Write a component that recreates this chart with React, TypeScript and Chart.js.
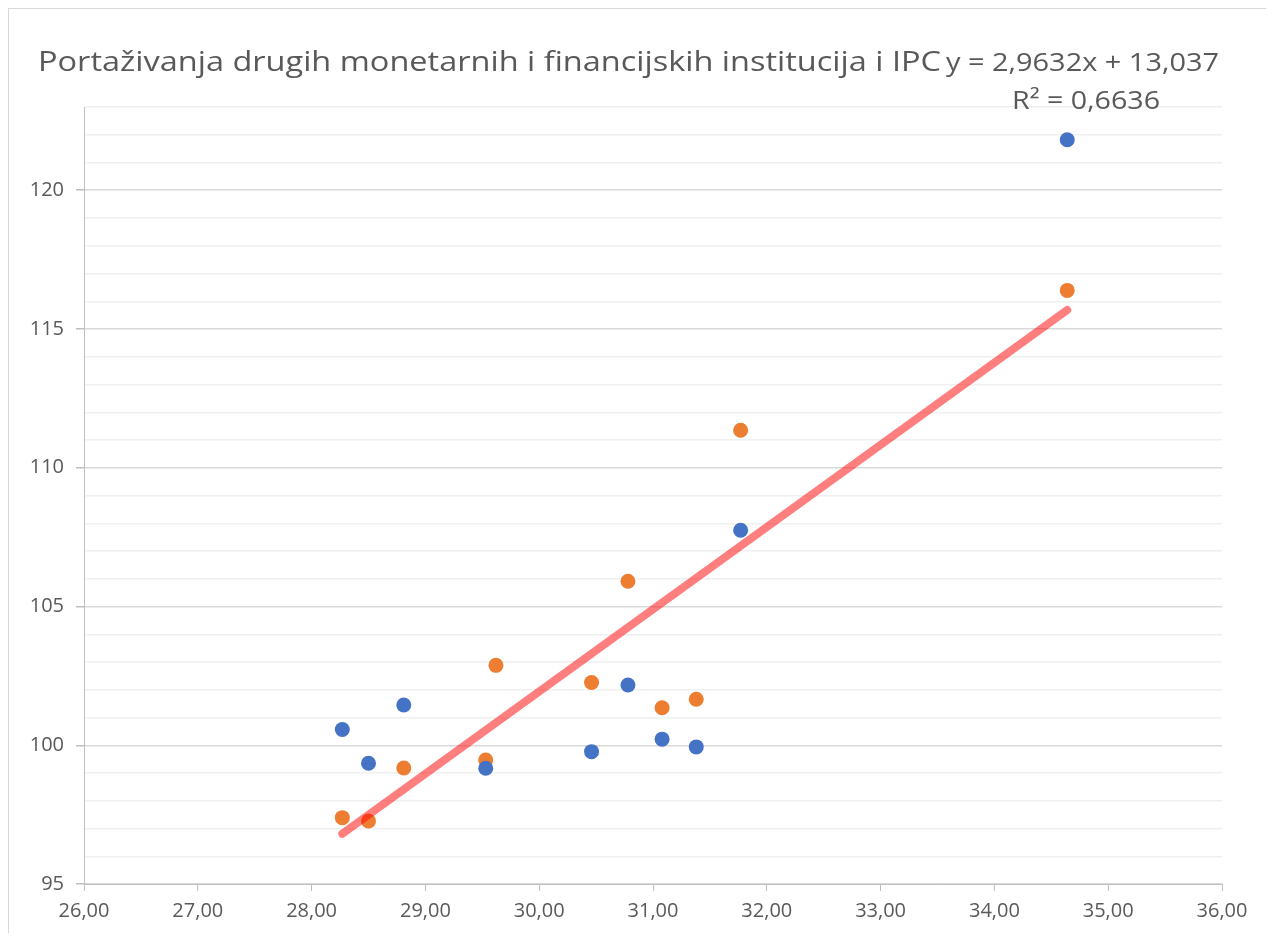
import React, { useEffect, useRef } from "react";
import { Chart, registerables } from "chart.js";

Chart.register(...registerables);

const titleText = "Portaživanja drugih monetarnih i financijskih institucija i IPC";
const equationText = "y = 2,9632x + 13,037";
const r2Text = "R² = 0,6636";

const blueX = [28.27, 28.5, 28.81, 29.53, 30.46, 30.78, 31.08, 31.38, 31.77, 34.64];
const blueY = [100.57, 99.35, 101.45, 99.17, 99.77, 102.17, 100.22, 99.94, 107.75, 121.82];

const orangeX = [28.27, 28.5, 28.81, 29.53, 29.62, 30.46, 30.78, 31.08, 31.38, 31.77, 34.64];
const orangeY = [97.39, 97.27, 99.18, 99.47, 102.88, 102.26, 105.91, 101.35, 101.66, 111.35, 116.39];

const trendSlope = 2.9632;
const trendIntercept = 13.037;
const trendXStart = 28.27;
const trendXEnd = 34.64;

const xMin = 26;
const xMax = 36;
const yMin = 95;
const yMax = 123;
const yLabelStep = 5;

const TEXT = "#595959";

function fitText(ctx: CanvasRenderingContext2D, text: string, x: number, baseline: number, font: string, targetW: number) {
  ctx.save();
  ctx.font = font;
  ctx.fillStyle = TEXT;
  ctx.textBaseline = "alphabetic";
  ctx.textAlign = "left";
  const w = ctx.measureText(text).width;
  ctx.translate(x, baseline);
  ctx.scale(targetW / w, 1);
  ctx.fillText(text, 0, 0);
  ctx.restore();
}

const titlePlugin = {
  id: "titleTexts",
  afterDraw(chart: any) {
    const ctx = chart.ctx as CanvasRenderingContext2D;
    fitText(ctx, titleText, 29, 62, "28px 'Open Sans'", 903);
    fitText(ctx, equationText, 937, 62, "25px 'Open Sans'", 273);
    fitText(ctx, r2Text, 1003, 100, "25px 'Open Sans'", 148);
  },
};

export default function App() {
  const ref = useRef<HTMLCanvasElement | null>(null);

  useEffect(() => {
    if (!ref.current) return;
    const toPts = (xs: number[], ys: number[]) => xs.map((x, i) => ({ x, y: ys[i] }));
    const trend = [trendXStart, trendXEnd].map((x) => ({ x, y: trendSlope * x + trendIntercept }));

    const chart = new Chart(ref.current, {
      type: "scatter",
      data: {
        datasets: [
          {
            label: "Trend",
            data: trend,
            showLine: true,
            borderColor: "rgba(255,0,0,0.5)",
            borderWidth: 8,
            borderCapStyle: "round",
            pointRadius: 0,
            order: 0,
          } as any,
          {
            label: "A",
            data: toPts(blueX, blueY),
            backgroundColor: "#4472C4",
            borderColor: "#4472C4",
            borderWidth: 0,
            pointRadius: 7.5,
            order: 1,
          },
          {
            label: "B",
            data: toPts(orangeX, orangeY),
            backgroundColor: "#ED7D31",
            borderColor: "#ED7D31",
            borderWidth: 0,
            pointRadius: 7.5,
            order: 2,
          },
        ],
      },
      options: {
        animation: false,
        responsive: false,
        layout: { padding: { top: 98, right: 52, left: 0, bottom: 0 } },
        plugins: {
          legend: { display: false },
          tooltip: { enabled: false },
          title: { display: false },
        },
        scales: {
          x: {
            type: "linear",
            min: xMin,
            max: xMax,
            afterFit: (s: any) => {
              s.height = 49;
            },
            ticks: {
              stepSize: 1,
              autoSkip: false,
              maxRotation: 0,
              color: TEXT,
              padding: 8,
              font: { family: "'Open Sans'", size: 20 },
              callback: (v: any) => Number(v).toFixed(2).replace(".", ","),
            },
            grid: {
              drawOnChartArea: false,
              drawTicks: true,
              tickLength: 7,
              tickColor: "#BFBFBF",
            },
            border: { color: "#BFBFBF", width: 1 },
          },
          y: {
            type: "linear",
            min: yMin,
            max: yMax,
            afterFit: (s: any) => {
              s.width = 75;
            },
            ticks: {
              stepSize: 1,
              autoSkip: false,
              color: TEXT,
              padding: 12,
              font: { family: "'Open Sans'", size: 20 },
              callback: (v: any) => (Number(v) % yLabelStep === 0 ? String(v) : ""),
            },
            grid: {
              drawTicks: true,
              tickLength: 8,
              color: (c: any) => (c.tick && c.tick.value % yLabelStep === 0 ? "#D9D9D9" : "#F0F0F0"),
              tickColor: (c: any) => (c.tick && c.tick.value % yLabelStep === 0 ? "#BFBFBF" : "rgba(0,0,0,0)"),
              lineWidth: 1.5,
            },
            border: { color: "#BFBFBF", width: 1 },
          },
        },
      },
      plugins: [titlePlugin],
    });
    return () => chart.destroy();
  }, []);

  return (
    <div
      style={{
        width: 1266,
        height: 925,
        borderLeft: "1px solid #D9D9D9",
        borderTop: "1px solid #D9D9D9",
        boxSizing: "border-box",
        background: "#fff",
      }}
    >
      <canvas ref={ref} width={1265} height={924} style={{ display: "block" }} />
    </div>
  );
}
